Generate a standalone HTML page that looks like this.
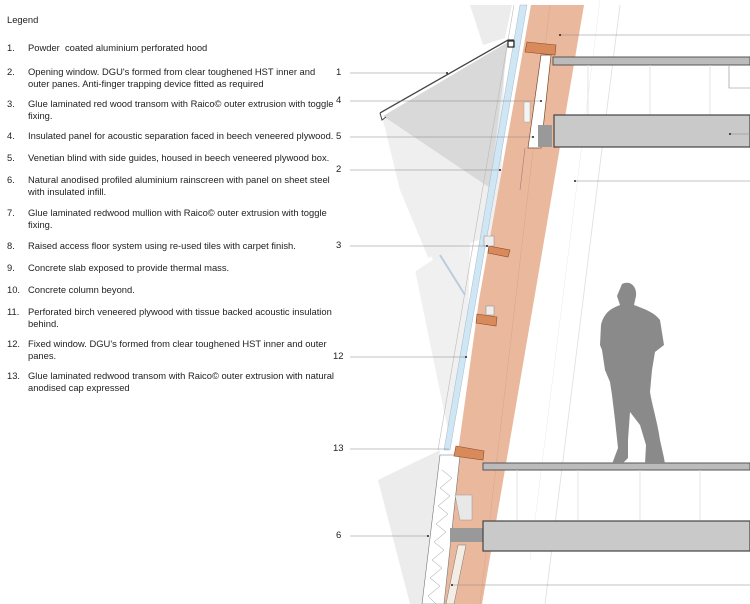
<!DOCTYPE html>
<html><head><meta charset="utf-8"><style>
body{margin:0;background:#fff;width:750px;height:604px;overflow:hidden;position:relative;font-family:"Liberation Sans",Arial,sans-serif;color:#222}
.t{position:absolute;font-size:9.4px;line-height:12px;left:28px;width:310px}
.n{position:absolute;font-size:9.4px;left:7px}
svg{position:absolute;left:0;top:0}
.l{position:absolute;font-size:9.5px}
</style></head><body>
<svg width="750" height="604" viewBox="0 0 750 604">
<polygon points="470,5 512,5 505,38 483,45" fill="#ececec"/>
<polygon points="383,120 505,45 500,230 430,262 400,190" fill="#efefef"/>
<polygon points="383,116 508,42 490,188" fill="#d9d9d9"/>
<polygon points="415,270 470,240 468,330 450,440" fill="#f0f0f0"/>
<polygon points="378,480 440,450 425,604 410,604" fill="#ececec"/>
<line x1="432" y1="258" x2="414" y2="270" stroke="#fff" stroke-width="4"/>
<line x1="620" y1="5" x2="545" y2="604" stroke="#ddd" stroke-width="0.8"/>
<line x1="600" y1="0" x2="530" y2="560" stroke="#eee" stroke-width="0.6"/>
<polygon points="531,5 584,5 534,300 482,604 437,604 479,300" fill="#eab89c"/>
<line x1="550" y1="5" x2="480" y2="604" stroke="#d9a586" stroke-width="0.5"/>
<polygon points="520,5 527,5 450,450 444,450" fill="#cfe6f5" stroke="#9ab" stroke-width="0.4"/>
<line x1="514" y1="5" x2="438" y2="450" stroke="#bbb" stroke-width="0.6"/>
<polygon points="440,455 460,455 444,604 422,604" fill="#fff" stroke="#777" stroke-width="0.6"/>
<polyline points="442,470 452,478 440,488 450,496 438,506 448,514 436,524 446,532 434,542 444,550 432,560 442,568 430,578 440,586 428,596 436,604" fill="none" stroke="#999" stroke-width="0.5"/>
<polygon points="455,495 472,495 472,520 460,520" fill="#e8e8e8" stroke="#999" stroke-width="0.5"/>
<rect x="450" y="528" width="33" height="14" fill="#999"/>
<polygon points="458,545 466,545 454,604 446,604" fill="#f4ede4" stroke="#777" stroke-width="0.5"/>
<polyline points="380,113 508,40 514,40" fill="none" stroke="#444" stroke-width="1.3"/>
<polyline points="380,113 382,120 386,117" fill="none" stroke="#444" stroke-width="1"/>
<rect x="508" y="41" width="6" height="6" fill="none" stroke="#222" stroke-width="1.2"/>
<polygon points="527,42 556,45 555,55 525,52" fill="#d98a5a" stroke="#8a4a2a" stroke-width="0.6"/>
<polygon points="541,55 551,55 541,148 528,148" fill="#fff" stroke="#7a4a2a" stroke-width="0.7"/>
<rect x="524" y="102" width="6" height="20" fill="#f4f4f4" stroke="#999" stroke-width="0.4"/>
<rect x="538" y="125" width="14" height="22" fill="#999"/>
<line x1="525" y1="148" x2="520" y2="190" stroke="#a77" stroke-width="0.6"/>
<polygon points="489,246 510,250 508,257 488,253" fill="#d98a5a" stroke="#8a4a2a" stroke-width="0.6"/>
<rect x="484" y="236" width="10" height="10" fill="#eee" stroke="#888" stroke-width="0.5"/>
<polygon points="477,314 497,317 496,326 476,323" fill="#d98a5a" stroke="#8a4a2a" stroke-width="0.6"/>
<rect x="486" y="306" width="8" height="9" fill="#eee" stroke="#888" stroke-width="0.5"/>
<polygon points="456,446 484,451 483,460 454,456" fill="#d98a5a" stroke="#8a4a2a" stroke-width="0.6"/>
<line x1="440" y1="255" x2="465" y2="295" stroke="#bcd" stroke-width="2"/>
<rect x="553" y="57" width="197" height="8" fill="#bbb" stroke="#555" stroke-width="1"/>
<g stroke="#ddd" stroke-width="0.8"><line x1="588" y1="65" x2="588" y2="115"/><line x1="650" y1="65" x2="650" y2="115"/><line x1="710" y1="65" x2="710" y2="115"/></g>
<rect x="554" y="115" width="196" height="32" fill="#c9c9c9" stroke="#444" stroke-width="1.2"/>
<rect x="483" y="463" width="267" height="7" fill="#bbb" stroke="#555" stroke-width="1"/>
<g stroke="#ddd" stroke-width="0.8"><line x1="517" y1="470" x2="517" y2="520"/><line x1="578" y1="470" x2="578" y2="520"/><line x1="640" y1="470" x2="640" y2="520"/><line x1="700" y1="470" x2="700" y2="520"/></g>
<rect x="483" y="521" width="267" height="30" fill="#c9c9c9" stroke="#444" stroke-width="1.2"/>
<path d="M622,284 C630,280 637,286 636,296 L634,305 C645,309 655,313 660,320 L664,345 L655,352 L652,370 L650,392 C652,405 657,420 660,440 L664,458 L665,464 L645,464 L646,445 L640,425 L630,412 L628,440 L628,458 L622,464 L612,464 L618,448 L615,420 L612,395 L610,382 L605,370 L602,350 L600,345 L601,325 C604,312 612,308 620,305 L617,296 Z" fill="#8a8a8a"/>
<g stroke="#888" stroke-width="0.6" fill="none">
<line x1="350" y1="73" x2="447" y2="73"/>
<line x1="350" y1="101" x2="541" y2="101"/>
<line x1="350" y1="137" x2="533" y2="137"/>
<line x1="350" y1="170" x2="500" y2="170"/>
<line x1="350" y1="246" x2="487" y2="246"/>
<line x1="350" y1="357" x2="466" y2="357"/>
<line x1="350" y1="449" x2="449" y2="449"/>
<line x1="350" y1="536" x2="428" y2="536"/>
<line x1="560" y1="35" x2="750" y2="35"/>
<polyline points="729,66 729,88 750,88"/>
<line x1="730" y1="134" x2="750" y2="134"/>
<line x1="575" y1="181" x2="750" y2="181"/>
<line x1="452" y1="585" x2="750" y2="585"/>
</g>
<g fill="#222"><circle cx="447" cy="73" r="1"/><circle cx="541" cy="101" r="1"/><circle cx="533" cy="137" r="1"/><circle cx="500" cy="170" r="1"/><circle cx="487" cy="246" r="1"/><circle cx="466" cy="357" r="1"/><circle cx="428" cy="536" r="1"/><circle cx="560" cy="35" r="1"/><circle cx="575" cy="181" r="1"/><circle cx="730" cy="134" r="1"/><circle cx="452" cy="585" r="1"/></g>
</svg>
<div class="l" style="left:336px;top:67px">1</div>
<div class="l" style="left:336px;top:95px">4</div>
<div class="l" style="left:336px;top:131px">5</div>
<div class="l" style="left:336px;top:164px">2</div>
<div class="l" style="left:336px;top:240px">3</div>
<div class="l" style="left:333px;top:351px">12</div>
<div class="l" style="left:333px;top:443px">13</div>
<div class="l" style="left:336px;top:530px">6</div>

<div class="t" style="left:7px;top:14px">Legend</div>
<div class="n" style="top:42px">1.</div><div class="t" style="top:42px">Powder&nbsp; coated aluminium perforated hood</div>
<div class="n" style="top:66px">2.</div><div class="t" style="top:66px">Opening window. DGU's formed from clear toughened HST inner and outer panes. Anti-finger trapping device fitted as required</div>
<div class="n" style="top:98px">3.</div><div class="t" style="top:98px">Glue laminated red wood transom with Raico© outer extrusion with toggle fixing.</div>
<div class="n" style="top:130px">4.</div><div class="t" style="top:130px">Insulated panel for acoustic separation faced in beech veneered plywood.</div>
<div class="n" style="top:152px">5.</div><div class="t" style="top:152px">Venetian blind with side guides, housed in beech veneered plywood box.</div>
<div class="n" style="top:174px">6.</div><div class="t" style="top:174px">Natural anodised profiled aluminium rainscreen with panel on sheet steel with insulated infill.</div>
<div class="n" style="top:207px">7.</div><div class="t" style="top:207px">Glue laminated redwood mullion with Raico© outer extrusion with toggle fixing.</div>
<div class="n" style="top:240px">8.</div><div class="t" style="top:240px">Raised access floor system using re-used tiles with carpet finish.</div>
<div class="n" style="top:262px">9.</div><div class="t" style="top:262px">Concrete slab exposed to provide thermal mass.</div>
<div class="n" style="top:284px">10.</div><div class="t" style="top:284px">Concrete column beyond.</div>
<div class="n" style="top:306px">11.</div><div class="t" style="top:306px">Perforated birch veneered plywood with tissue backed acoustic insulation behind.</div>
<div class="n" style="top:338px">12.</div><div class="t" style="top:338px">Fixed window. DGU's formed from clear toughened HST inner and outer panes.</div>
<div class="n" style="top:370px">13.</div><div class="t" style="top:370px">Glue laminated redwood transom with Raico© outer extrusion with natural anodised cap expressed</div>
</body></html>
